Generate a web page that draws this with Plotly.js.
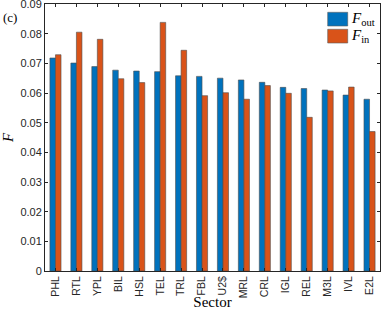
<!DOCTYPE html>
<html><head><meta charset="utf-8">
<script src="https://cdn.plot.ly/plotly-3.0.1.min.js"></script>
<style>html,body{margin:0;padding:0;background:#fff}#chart{width:382px;height:310px}</style>
</head><body><div id="chart"></div>
<script>
const sectors = ["PHL","RTL","YPL","BIL","HSL","TEL","TRL","FBL","U2$","MRL","CRL","IGL","REL","M3L","IVL","E2L"];
const fOut = [0.0718,0.0701,0.0689,0.0677,0.0674,0.0672,0.0658,0.0656,0.0650,0.0644,0.0636,0.0619,0.0615,0.0610,0.0593,0.0579];
const fIn  = [0.0729,0.0805,0.0781,0.0648,0.0635,0.0838,0.0744,0.0591,0.0601,0.0579,0.0625,0.0599,0.0518,0.0607,0.0620,0.0470];
const yTicks = [0,0.01,0.02,0.03,0.04,0.05,0.06,0.07,0.08,0.09];
const yTickText = ["0","0.01","0.02","0.03","0.04","0.05","0.06","0.07","0.08","0.09"];
const seriesNames = ['<i>F</i><sub>out</sub>', '<i>F</i><sub>in</sub>'];
const seriesColors = ['#0072BD', '#D95319'];

const axisColor = '#262626';
const sans = 'Liberation Sans, Arial, sans-serif';
const serif = 'Liberation Serif, Times New Roman, serif';

// plot-area pixel frame (for legend placement)
const W = 382, H = 310, L = 45, R = 380, T = 4, B = 271;
const px = v => (v - L) / (R - L);
const py = v => (B - v) / (B - T);

const traces = [fOut, fIn].map((vals, i) => ({
  type:'bar', x:sectors, y:vals, name:seriesNames[i],
  marker:{color:seriesColors[i], line:{color:'#4d4d4d', width:0.6}}
}));

const shapes = [], annotations = [];
const patchTops = [12.3, 29.3];
seriesNames.forEach((nm, i) => {
  shapes.push({type:'rect', xref:'paper', yref:'paper',
    x0:px(327.7), x1:px(347.7), y0:py(patchTops[i]), y1:py(patchTops[i] + 13.7),
    fillcolor:seriesColors[i], line:{color:'#5a5a5a', width:0.6}});
  annotations.push({text:nm, xref:'paper', yref:'paper', x:px(348.5), y:py(patchTops[i] + 7),
    xanchor:'left', yanchor:'middle', showarrow:false,
    font:{family:serif, size:15, color:'#000'}});
});
annotations.push({text:'(c)', xref:'paper', yref:'paper', x:px(1), y:py(17),
  xanchor:'left', yanchor:'middle', showarrow:false,
  font:{family:serif, size:13, color:'#000'}});

const layout = {
  width:W, height:H,
  margin:{l:L, r:W - R, t:T, b:H - B},
  paper_bgcolor:'#fff', plot_bgcolor:'#fff',
  barmode:'group', bargap:0.47, bargroupgap:0,
  showlegend:false,
  xaxis:{type:'category', showline:true, mirror:'ticks', linecolor:axisColor, linewidth:1,
         ticks:'inside', ticklen:3, tickcolor:axisColor, tickangle:-90,
         tickfont:{family:sans, size:10.5, color:'#262626'},
         title:{text:'Sector', font:{family:serif, size:15, color:'#000'}, standoff:2},
         showgrid:false, zeroline:false},
  yaxis:{range:[0,0.09], tickvals:yTicks, ticktext:yTickText, showline:true, mirror:'ticks',
         linecolor:axisColor, linewidth:1, ticks:'inside', ticklen:3, tickcolor:axisColor,
         tickfont:{family:sans, size:11, color:'#262626'}, ticklabeloverflow:'allow',
         title:{text:'<i>F</i>', font:{family:serif, size:15, color:'#000'}, standoff:6},
         showgrid:false, zeroline:false},
  shapes:shapes,
  annotations:annotations
};
Plotly.newPlot('chart', traces, layout, {displayModeBar:false, staticPlot:true});
</script>
</body></html>
